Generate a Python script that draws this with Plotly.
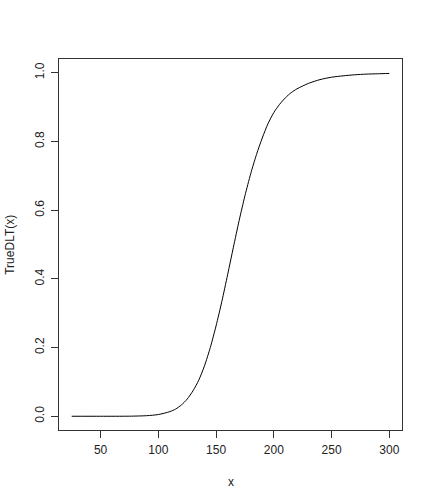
import plotly.graph_objects as go

x_vals = [25, 50, 75, 90, 100, 110, 115, 120, 125, 130, 135, 140, 145, 150, 155, 160, 165,
          170, 175, 180, 185, 190, 195, 200, 205, 210, 215, 220, 230, 240, 250, 260,
          270, 280, 290, 300]
y_vals = [0.0000, 0.0000, 0.0002, 0.0017, 0.005, 0.0135, 0.021, 0.033, 0.050, 0.074,
          0.105, 0.147, 0.200, 0.263, 0.334, 0.412, 0.492, 0.570, 0.642, 0.706, 0.762,
          0.810, 0.852, 0.884, 0.908, 0.927, 0.942, 0.953, 0.969, 0.980, 0.987, 0.991,
          0.994, 0.996, 0.997, 0.998]
x_ticks = [50, 100, 150, 200, 250, 300]
y_ticks = [0.0, 0.2, 0.4, 0.6, 0.8, 1.0]
y_tick_text = ["0.0", "0.2", "0.4", "0.6", "0.8", "1.0"]

FONT = "Liberation Sans, Arial, sans-serif"

fig = go.Figure()
fig.add_trace(go.Scatter(x=x_vals, y=y_vals, mode="lines",
                         line=dict(color="black", width=1, shape="spline", smoothing=0.7),
                         showlegend=False, hoverinfo="skip"))

axis_common = dict(showgrid=False, zeroline=False, showline=True, mirror=True,
                   linecolor="#333333", linewidth=1, ticks="outside", ticklen=7,
                   tickcolor="#333333", tickwidth=1,
                   tickfont=dict(family=FONT, size=12, color="#222222"))

fig.update_xaxes(range=[14, 311], tickvals=x_ticks, ticklabelstandoff=2, **axis_common)
fig.update_yaxes(range=[-0.04, 1.04], tickvals=y_ticks, ticktext=y_tick_text,
                 tickangle=-90, ticklabelstandoff=2, **axis_common)

fig.add_annotation(text="x", xref="paper", yref="paper", x=0.5, y=-0.14,
                   yanchor="middle", xanchor="center", showarrow=False,
                   font=dict(family=FONT, size=12, color="#222222"))
fig.add_annotation(text="TrueDLT(x)", xref="paper", yref="paper", x=-0.145, y=0.5,
                   textangle=-90, xanchor="center", yanchor="middle", showarrow=False,
                   font=dict(family=FONT, size=12, color="#222222"))

fig.update_layout(width=432, height=504,
                  margin=dict(l=59, r=30, t=59, b=74, autoexpand=False),
                  paper_bgcolor="white", plot_bgcolor="white")

# remove the default 8px page margin so the figure fills the window exactly
fig.write_html("out.html",
               config={"displayModeBar": False, "staticPlot": True},
               post_script="document.body.style.margin='0';document.body.style.overflow='hidden';")
